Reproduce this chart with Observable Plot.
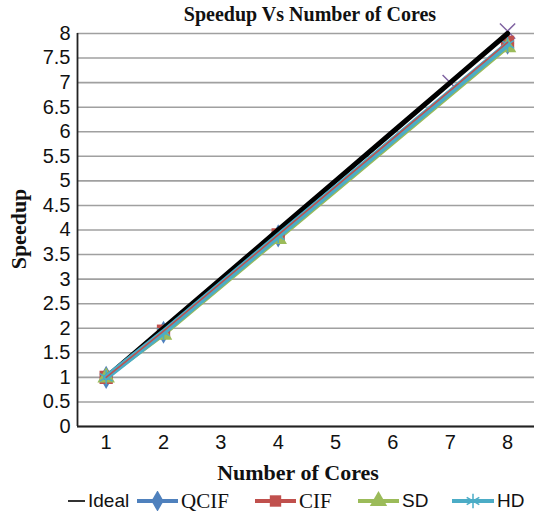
<!DOCTYPE html>
<html>
<head>
<meta charset="utf-8">
<script src="https://cdn.jsdelivr.net/npm/d3@7"></script>
<script src="https://cdn.jsdelivr.net/npm/@observablehq/plot@0.6"></script>
<style>
  html, body { margin: 0; padding: 0; background: #fff; overflow: hidden; }
  #wrap { position: relative; width: 534px; height: 514px; }
  #chart { position: absolute; left: 0; top: 0; }
  .t { position: absolute; white-space: nowrap; color: #111; }
  .serif { font-family: "Liberation Serif", "Times New Roman", serif; font-weight: bold; }
  .leg { position: absolute; top: 491px; height: 20px; display: flex; align-items: center; color: #111; }
  .leg .lserif { font-family: "Liberation Serif", "Times New Roman", serif; font-size: 21px; }
  .leg .lsans { font-family: "Liberation Sans", Arial, sans-serif; font-size: 19px; }
</style>
</head>
<body>
<div id="wrap">
  <div id="chart"></div>
  <div class="t serif" style="font-size:20px; left:0; width:620px; text-align:center; top:3px;">Speedup Vs Number of Cores</div>
  <div class="t serif" style="font-size:22px; left:0; width:596px; text-align:center; top:460px;">Number of Cores</div>
  <div class="t serif" style="font-size:22px; left:19px; top:229px; transform: translate(-50%,-50%) rotate(-90deg);">Speedup</div>
  <div id="legend"></div>
</div>
<script>
// ---- data ----
const cores = [1, 2, 4, 8];
const idealCores = [1, 2, 3, 4, 5, 6, 7, 8];
const idealSpeedup = [1, 2, 3, 4, 5, 6, 7, 8];
const qcif = [1, 1.92, 3.88, 7.8];
const cif = [1, 1.94, 3.9, 7.82];
const sd = [1, 1.87, 3.82, 7.72];
const hd = [1, 1.92, 3.88, 7.78];
const idealMarkCores = [7, 8];
const idealMarkSpeedup = [7, 8.05];
const xTicks = [1, 2, 3, 4, 5, 6, 7, 8];
const yTicks = [0, 0.5, 1, 1.5, 2, 2.5, 3, 3.5, 4, 4.5, 5, 5.5, 6, 6.5, 7, 7.5, 8];

const seriesNames = ["QCIF", "CIF", "SD", "HD"];
const seriesValues = [qcif, cif, sd, hd];
const colors = {QCIF: "#4f81bd", CIF: "#c0504d", SD: "#9bbb59", HD: "#4bacc6"};

const rows = [];
seriesNames.forEach((s, i) => cores.forEach((c, j) => rows.push({series: s, x: c, y: seriesValues[i][j]})));
const ideal = idealCores.map((c, i) => ({x: c, y: idealSpeedup[i]}));
const idealMarks = idealMarkCores.map((c, i) => ({x: c, y: idealMarkSpeedup[i]}));
const S = name => rows.filter(r => r.series === name);

const chart = Plot.plot({
  width: 534,
  height: 462,
  marginTop: 33,
  marginBottom: 36,
  marginLeft: 77,
  marginRight: 0,
  style: {fontFamily: "Liberation Sans, Arial, sans-serif", fontSize: "20px", color: "#111", background: "transparent"},
  x: {domain: [0.5, 8.47], ticks: xTicks},
  y: {domain: [0, 8], ticks: yTicks},
  marks: [
    Plot.gridY(yTicks, {stroke: "#a0a0a0", strokeOpacity: 1, strokeWidth: 1.6}),
    Plot.axisY(yTicks, {tickSize: 0, tickPadding: 7, label: null, tickFormat: d => String(d), fontSize: 20}),
    Plot.axisX(xTicks, {tickSize: 0, tickPadding: 8, label: null, fontSize: 20}),
    Plot.ruleX([0.5], {stroke: "#222", strokeWidth: 1.8}),
    Plot.ruleY([0], {stroke: "#222", strokeWidth: 1.8}),
    Plot.dot(idealMarks, {x: "x", y: "y", symbol: "times", r: 7, stroke: "#8064a2", strokeWidth: 1.5}),
    Plot.line(S("SD"), {x: "x", y: "y", stroke: colors.SD, strokeWidth: 4}),
    Plot.line(S("QCIF"), {x: "x", y: "y", stroke: colors.QCIF, strokeWidth: 4}),
    Plot.dot(S("QCIF"), {x: "x", y: "y", symbol: "diamond", r: 7, fill: colors.QCIF}),
    Plot.dot(S("CIF"), {x: "x", y: "y", symbol: "square", r: 7.5, fill: colors.CIF}),
    Plot.dot(S("SD"), {x: "x", y: "y", symbol: "triangle", r: 6.5, fill: colors.SD}),
    Plot.dot(S("HD"), {x: "x", y: "y", symbol: "asterisk", r: 7, stroke: colors.HD, strokeWidth: 1.5}),
    Plot.line(ideal, {x: "x", y: "y", stroke: "#000", strokeWidth: 5}),
    Plot.line(S("HD"), {x: "x", y: "y", stroke: colors.HD, strokeWidth: 6}),
    Plot.line(S("CIF"), {x: "x", y: "y", stroke: colors.CIF, strokeWidth: 1.5})
  ]
});
document.getElementById("chart").appendChild(chart);

// ---- legend ----
const legendItems = [
  {name: "Ideal", color: "#000", symbol: null, left: 68, lineW: 17, cls: "lsans"},
  {name: "QCIF", color: colors.QCIF, symbol: "diamond", left: 137, lineW: 41, cls: "lserif"},
  {name: "CIF", color: colors.CIF, symbol: "square", left: 255, lineW: 41, cls: "lserif"},
  {name: "SD", color: colors.SD, symbol: "triangle", left: 358, lineW: 41, cls: "lsans"},
  {name: "HD", color: colors.HD, symbol: "asterisk", left: 452, lineW: 42, cls: "lsans"}
];
const legend = document.getElementById("legend");
legendItems.forEach(it => {
  const d = document.createElement("div");
  d.className = "leg";
  d.style.left = it.left + "px";
  const w = it.lineW, h = 20;
  const sym = it.symbol ? d3.symbol(d3["symbol" + it.symbol[0].toUpperCase() + it.symbol.slice(1)] || d3.symbolSquare, it.symbol === "asterisk" ? 150 : 130)() : null;
  let svg = `<svg width="${w + 1}" height="${h}" style="display:block">` +
    `<line x1="0" x2="${w}" y1="${h/2}" y2="${h/2}" stroke="${it.color}" stroke-width="${it.symbol ? 4 : 1.6}"/>`;
  if (sym) {
    if (it.symbol === "asterisk") svg += `<path d="${sym}" transform="translate(${w/2},${h/2})" stroke="${it.color}" stroke-width="1.5" fill="none"/>`;
    else svg += `<path d="${sym}" transform="translate(${w/2},${h/2})" fill="${it.color}"/>`;
  }
  svg += `</svg>`;
  d.innerHTML = svg + `<span class="${it.cls}" style="margin-left:2px">${it.name}</span>`;
  legend.appendChild(d);
});
</script>
</body>
</html>
